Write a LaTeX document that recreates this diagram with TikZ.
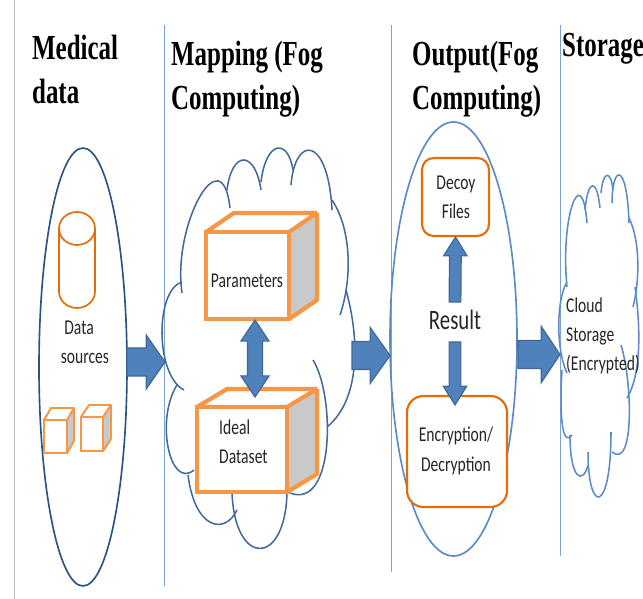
\documentclass[tikz,border=0pt]{standalone}
\usepackage{fontspec}
\setmainfont[FakeStretch=0.74]{Carlito}
\newfontfamily\headfont[FakeStretch=0.71]{Liberation Serif}
\usetikzlibrary{calc,shapes.geometric}
\definecolor{arrowblue}{HTML}{4F81BD}
\definecolor{arrowedge}{HTML}{3F6797}
\definecolor{darkline}{HTML}{2A5384}
\definecolor{midline}{HTML}{41699A}
\definecolor{lightline}{HTML}{5B8BC6}
\definecolor{boxorange}{HTML}{F79646}
\definecolor{deeporange}{HTML}{E46C0A}
\definecolor{sidegrey}{HTML}{C9C9C9}
\tikzset{
  head/.style={anchor=base west,align=left,font=\headfont\bfseries\fontsize{30}{38}\selectfont},
  body/.style={align=center,inner sep=0pt,text=black!85,font=\fontsize{18}{25}\selectfont},
  sep/.style={color=lightline!80,line width=0.8pt},
  cloudone/.style={color=midline,line width=1.3pt},
  cloudtwo/.style={color=lightline,line width=1.3pt},
  roundbox/.style={draw=deeporange,fill=white,rounded corners=14pt,line width=1.8pt,inner sep=0pt},
  blockarrow/.style n args={3}{draw=arrowedge,fill=arrowblue,line width=1pt,to path={
    let \p1=($(\tikztotarget)!#3!(\tikztostart)$) in
    -- ($(\tikztostart)!#1!90:(\tikztotarget)$) -- ($(\p1)!#1!90:(\tikztotarget)$)
    -- ($(\p1)!#2!90:(\tikztotarget)$) -- (\tikztotarget)
    -- ($(\p1)!#2!-90:(\tikztotarget)$) -- ($(\p1)!#1!-90:(\tikztotarget)$)
    -- ($(\tikztostart)!#1!-90:(\tikztotarget)$) -- cycle}},
  bothways/.style n args={3}{draw=arrowedge,fill=arrowblue,line width=1pt,to path={
    let \p1=($(\tikztotarget)!#3!(\tikztostart)$),\p2=($(\tikztostart)!#3!(\tikztotarget)$) in
    -- ($(\p2)!#2!-90:(\tikztotarget)$) -- ($(\p2)!#1!-90:(\tikztotarget)$)
    -- ($(\p1)!#1!-90:(\tikztotarget)$) -- ($(\p1)!#2!-90:(\tikztotarget)$) -- (\tikztotarget)
    -- ($(\p1)!#2!90:(\tikztotarget)$) -- ($(\p1)!#1!90:(\tikztotarget)$)
    -- ($(\p2)!#1!90:(\tikztotarget)$) -- ($(\p2)!#2!90:(\tikztotarget)$) -- cycle}}
}
% name, left, top, right, bottom of the front, then back right, back top, line width
\newcommand{\cube}[8]{
  \fill[sidegrey] (#4,#3) -- (#6,#7) -- (#6,#5-#3+#7) -- (#4,#5) -- cycle;
  \draw[boxorange,line width=#8,line join=bevel,fill=white] (#2,#3) -- (#2-#4+#6,#7) -- (#6,#7) -- (#4,#3) -- cycle;
  \draw[boxorange,line width=#8,line join=bevel] (#6,#7) -- (#6,#5-#3+#7) -- (#4,#5);
  \node[draw=boxorange,fill=white,line width=#8,inner sep=0pt,minimum width={(#4-#2)*0.03cm},minimum height={(#5-#3)*0.03cm}] (#1) at ({(#2+#4)/2},{(#3+#5)/2}) {};
}
\begin{document}
\begin{tikzpicture}[x=0.03cm,y=-0.03cm]
\useasboundingbox (0,0) rectangle (643,599);
\fill[white] (0,0) rectangle (643,599);
% column lines
\draw[color=black!25,line width=0.8pt] (14,0) -- (14,599);
\draw[sep] (164,25) -- (164,586);
\draw[sep] (391,25) -- (391,572);
\draw[sep] (560,25) -- (560,556);
% titles
\node[head] (medical) at (28,104) {Medical\\data};
\node[head] (mapping) at (167,110) {Mapping (Fog\\Computing)};
\node[head] (output) at (408,110) {Output(Fog\\Computing)};
\node[head] (storage) at (558,57) {Storage};
% medical data
\node[draw=darkline,line width=1.4pt,ellipse,inner sep=0pt,minimum width=2.64cm,minimum height=13.14cm] (sources) at (83,367) {};
\draw[deeporange,line width=1.4pt] (77,228.5) ellipse (18 and 16.5);
\draw[deeporange,line width=1.4pt] (59,228.5) -- (59,291.5) arc[start angle=180,end angle=0,x radius=18,y radius=16.5] -- (95,228.5);
\node[body] (datalabel) at (82,342.5) {\hspace*{-5pt}Data\\\hspace*{5pt}sources};
\cube{smallone}{44}{420}{67}{453}{74}{408}{1.7pt}
\cube{smalltwo}{81}{417}{103}{451}{111}{405}{1.7pt}
% fog cloud
\draw[cloudone] (182,293) .. controls (172,225) and (222,135) .. (230,208);
\draw[cloudone] (227,190) .. controls (232,150) and (255,150) .. (261,190);
\draw[cloudone] (261,182) .. controls (266,140) and (288,138) .. (293,170);
\draw[cloudone] (291,185) .. controls (295,135) and (328,135) .. (332,210);
\draw[cloudone] (332,200) .. controls (352,230) and (352,280) .. (340,315);
\draw[cloudone] (346,290) .. controls (360,340) and (360,400) .. (327,427);
\draw[cloudone] (313,360) .. controls (335,395) and (335,510) .. (290,493);
\draw[cloudone] (287,493) .. controls (285,567) and (235,567) .. (232,493);
\draw[cloudone] (237,510) .. controls (225,535) and (195,530) .. (188,475);
\draw[cloudone] (194,470) .. controls (170,490) and (155,420) .. (177,385);
\draw[cloudone] (184,390) .. controls (155,375) and (155,290) .. (182,282);
\cube{params}{206}{232}{289}{319}{317}{213}{3.6pt}
\cube{ideal}{197}{407}{287}{492}{317}{389}{3.6pt}
\node[body] (paramlabel) at (247,281) {Parameters};
\node[body,align=left,anchor=west] (ideallabel) at (219,442) {Ideal\\Dataset};
% output
\node[draw=lightline,line width=1.4pt,ellipse,inner sep=0pt,minimum width=3.81cm,minimum height=13.02cm] (result) at (453.5,339) {};
\node[roundbox,rounded corners=10pt,minimum width=2.01cm,minimum height=2.34cm] (decoy) at (455.5,197) {};
\node[roundbox,minimum width=3cm,minimum height=3.33cm] (crypt) at (457,451.5) {};
\node[body] (decoylabel) at (456,197.5) {Decoy\\Files};
\node[body] (cryptlabel) at (456,451) {Encryption/\\Decryption};
\node[body,font=\fontsize{24}{24}\selectfont] (resultlabel) at (455,320) {Result};
% storage cloud
\draw[cloudtwo] (567,287) .. controls (560,215) and (582,160) .. (587,223);
\draw[cloudtwo] (585,210) .. controls (588,178) and (597,178) .. (600,208);
\draw[cloudtwo] (601,193) .. controls (603,170) and (611,170) .. (613,190);
\draw[cloudtwo] (612,203) .. controls (612,165) and (627,160) .. (629,223);
\draw[cloudtwo] (629,218) .. controls (640,240) and (640,280) .. (633,307);
\draw[cloudtwo] (635,287) .. controls (641,330) and (641,375) .. (627,398);
\draw[cloudtwo] (621,345) .. controls (632,380) and (635,470) .. (612,452);
\draw[cloudtwo] (611,432) .. controls (611,515) and (588,515) .. (588,452);
\draw[cloudtwo] (588,465) .. controls (583,485) and (570,480) .. (570,435);
\draw[cloudtwo] (572,435) .. controls (560,450) and (560,400) .. (562,370);
\draw[cloudtwo] (567,373) .. controls (556,350) and (556,300) .. (567,282);
\node[body,align=left,anchor=west] (cloudlabel) at (566,336) {Cloud\\Storage\\(Encrypted)};
% arrows
\coordinate (sourceout) at (127,362);
\coordinate (fogin) at (165,362);
\coordinate (fogout) at (352,355.5);
\coordinate (outin) at (390,355.5);
\coordinate (outout) at (518,354.5);
\coordinate (storein) at (560,354.5);
\coordinate (paramdown) at (255,320);
\coordinate (idealup) at (255,397);
\coordinate (resulttop) at (455,302);
\coordinate (resultbot) at (455,342);
\coordinate (cryptin) at (455,405);
\draw[blockarrow={12pt}{23pt}{16pt}] (sourceout) to (fogin);
\draw[blockarrow={12pt}{24pt}{17pt}] (fogout) to (outin);
\draw[blockarrow={12pt}{24pt}{16pt}] (outout) to (storein);
\draw[bothways={6.4pt}{12pt}{18pt}] (paramdown) to (idealup);
\draw[blockarrow={5pt}{10pt}{16pt}] (resulttop) to (decoy.south);
\draw[blockarrow={5pt}{10pt}{16pt}] (resultbot) to (cryptin);
\end{tikzpicture}
\end{document}
